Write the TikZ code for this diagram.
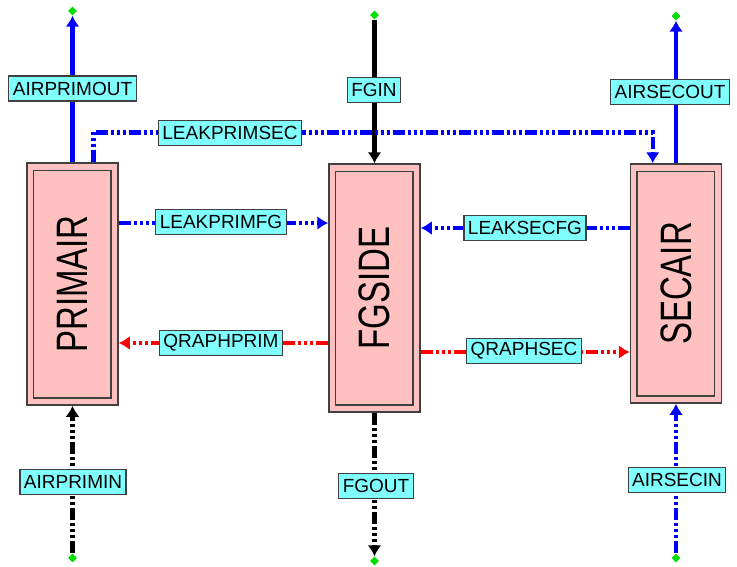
\documentclass[tikz,border=0pt]{standalone}
\usepackage{fontspec}
\setmainfont{Liberation Sans}
\usetikzlibrary{arrows.meta,calc,shapes.geometric}
\definecolor{fblock}{HTML}{FFC0C0}
\definecolor{ftag}{HTML}{80FFFF}
\definecolor{fblue}{HTML}{0000FF}
\definecolor{fred}{HTML}{FF0000}
\definecolor{fgreen}{HTML}{00E000}
\newcommand{\blocktext}[1]{\rotatebox{90}{\fontsize{44}{44}\selectfont\scalebox{0.75}[1]{#1}}}

\begin{document}
\begin{tikzpicture}[x=1pt, y=-1pt,
  block/.style={draw=black!75, line width=1.5pt, fill=fblock, inner sep=0pt, minimum width=91pt},
  tag/.style={draw=black!75, line width=1.2pt, fill=ftag, inner xsep=4pt, inner ysep=0pt,
    minimum height=25pt, font=\fontsize{19}{19}\selectfont},
  enddot/.style={diamond, fill=fgreen, inner sep=0pt, minimum size=9pt},
  flow/.style={line width=4.5pt, -{Latex[length=11pt,width=14pt]}},
  leak/.style={flow, dash pattern=on 12pt off 3pt on 3pt off 3pt on 3pt off 3pt on 3pt off 3pt}]
\useasboundingbox (0,0) rectangle (737,566);
% blocks
\node[block, minimum height=242pt] (primair) at (72.5,284) {\blocktext{PRIMAIR}};
\node[block, minimum height=248pt] (fgside) at (374.5,288) {\blocktext{FGSIDE}};
\node[block, minimum height=239pt] (secair) at (676,283.5) {\blocktext{SECAIR}};
\foreach \b in {primair,fgside,secair}{
  \draw[draw=black!75, line width=1.5pt] ($(\b.north west)+(7,8)$) rectangle ($(\b.south east)+(-8,-8)$);}
% end points
\node[enddot] (priout) at (72.5,11) {};
\node[enddot] (priin) at (72.5,558) {};
\node[enddot] (fgin) at (374.5,15) {};
\node[enddot] (fgout) at (374.5,561) {};
\node[enddot] (secout) at (676,16) {};
\node[enddot] (secin) at (676,558) {};
% air and gas streams
\draw[flow, fblue] (primair.north) -- (priout);
\draw[leak, black] (priin) -- (primair.south);
\draw[flow, black] (fgin) -- (fgside.north);
\draw[leak, black] (fgside.south) -- (fgout);
\draw[flow, fblue] (secair.north) -- (secout);
\draw[leak, fblue] (secin) -- (secair.south);
% leakages
\draw[leak, fblue] ($(primair.north west)+(67,0)$) |- ($(secair.north west)+(23,-31)$) -- ($(secair.north west)+(23,0)$);
\draw[leak, fblue] (primair.east |- 0,223) -- (fgside.west |- 0,223);
\draw[leak, fblue] (secair.west |- 0,228) -- (fgside.east |- 0,228);
% heat
\draw[leak, fred] (fgside.west |- 0,343) -- (primair.east |- 0,343);
\draw[leak, fred] (fgside.east |- 0,352) -- (secair.west |- 0,352);
% labels
\node[tag] (t-primout) at (72.5,88.5) {AIRPRIMOUT};
\node[tag] (t-fgin) at (374,90) {FGIN};
\node[tag] (t-secout) at (670,92) {AIRSECOUT};
\node[tag] (t-leakps) at (230,133) {LEAKPRIMSEC};
\node[tag] (t-leakpf) at (221,222) {LEAKPRIMFG};
\node[tag] (t-leaksf) at (525,228) {LEAKSECFG};
\node[tag] (t-qprim) at (221,343) {QRAPHPRIM};
\node[tag] (t-qsec) at (524,351) {QRAPHSEC};
\node[tag] (t-primin) at (73,482) {AIRPRIMIN};
\node[tag] (t-fgout) at (376,486) {FGOUT};
\node[tag] (t-secin) at (677,480) {AIRSECIN};
\end{tikzpicture}
\end{document}
